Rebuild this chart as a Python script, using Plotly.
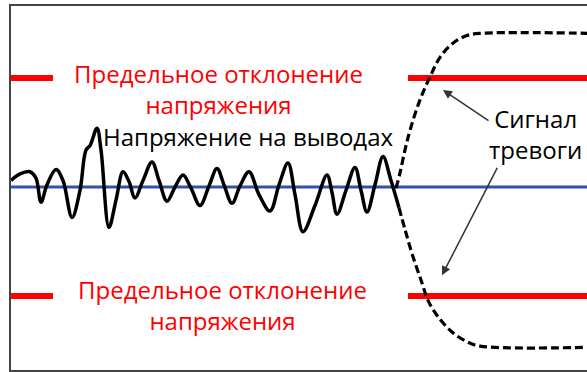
"""
Напряжение на выводах и сигнал тревоги
"""
import plotly.graph_objects as go

# Время (усл. ед.) и напряжение (в долях от предельного отклонения)
wave_t = [0, 9, 19, 25, 30, 36, 45, 52, 61, 69, 75, 79, 86, 90, 98, 105, 112, 118,
          124, 132, 141, 148, 156, 164, 172, 180, 189, 198, 206, 213, 221, 229, 238,
          248, 259, 268, 277, 284, 292, 304, 316, 321, 326, 335, 344, 350, 356, 364,
          372, 380, 388]
wave_v = [0.06, 0.12, 0.14, 0.08, -0.14, 0.02, 0.16, 0.06, -0.28, -0.03, 0.34, 0.38,
          0.54, 0.34, -0.37, -0.12, 0.14, 0.05, -0.10, 0.06, 0.23, 0.06, -0.13, 0.00,
          0.11, -0.01, -0.17, 0.01, 0.17, 0.02, -0.15, 0.01, 0.14, -0.07, -0.22, 0.02,
          0.22, -0.07, -0.41, -0.17, 0.11, -0.05, -0.25, -0.03, 0.18, -0.03, -0.23,
          0.02, 0.28, 0.06, -0.19]

alarm_up_t = [385, 389, 394, 399, 409, 419, 429, 442, 456, 469, 580]
alarm_up_v = [-0.01, 0.13, 0.34, 0.52, 0.80, 1.01, 1.19, 1.32, 1.39, 1.41, 1.41]

alarm_down_t = [388, 394, 402, 411, 417, 427, 441, 456, 469, 580]
alarm_down_v = [-0.19, -0.39, -0.64, -0.88, -1.04, -1.19, -1.33, -1.42, -1.46, -1.47]

limit_v = 1.0
limit_left_t = [0, 42]
limit_right_t = [397, 580]
t_range = [0, 589]
v_range = [-1.679, 1.661]

FONT = "Open Sans"
DASH = '8px,4px'

fig = go.Figure()

# Нулевая линия
fig.add_trace(go.Scatter(x=t_range, y=[0, 0], mode='lines',
                         line=dict(color='#3550a8', width=3)))

# Пределы отклонения
for seg in (limit_left_t, limit_right_t):
    for v in (limit_v, -limit_v):
        fig.add_trace(go.Scatter(x=seg, y=[v, v], mode='lines',
                                 line=dict(color='#ff0000', width=6)))

# Сигнал тревоги (пунктир)
fig.add_trace(go.Scatter(x=alarm_up_t, y=alarm_up_v, mode='lines',
                         line=dict(color='black', width=3.2, dash=DASH,
                                   shape='spline', smoothing=1)))
fig.add_trace(go.Scatter(x=alarm_down_t, y=alarm_down_v, mode='lines',
                         line=dict(color='black', width=3.2, dash=DASH,
                                   shape='spline', smoothing=1)))

# Напряжение на выводах
fig.add_trace(go.Scatter(x=wave_t, y=wave_v, mode='lines',
                         line=dict(color='black', width=3.5, shape='spline',
                                   smoothing=1)))

# Подписи
fig.add_annotation(x=207, y=0.90, text="Предельное отклонение<br>напряжения",
                   showarrow=False, font=dict(family=FONT, size=24, color='#ff0000'))
fig.add_annotation(x=211, y=-1.08, text="Предельное отклонение<br>напряжения",
                   showarrow=False, font=dict(family=FONT, size=24, color='#ff0000'))
fig.add_annotation(x=237, y=0.46, text="Напряжение на выводах",
                   showarrow=False, font=dict(family=FONT, size=24, color='black'))
fig.add_annotation(x=524, y=0.49, text="Сигнал<br>тревоги",
                   showarrow=False, font=dict(family=FONT, size=24, color='black'))

# Стрелки к сигналу тревоги
fig.add_annotation(x=432, y=0.89, ax=479, ay=0.60, axref='x', ayref='y',
                   text="", showarrow=True, arrowhead=2, arrowsize=1.2,
                   arrowwidth=1.5, arrowcolor='#333333')
fig.add_annotation(x=431, y=-0.81, ax=487, ay=0.19, axref='x', ayref='y',
                   text="", showarrow=True, arrowhead=2, arrowsize=1.2,
                   arrowwidth=1.5, arrowcolor='#333333')

# рамка открыта справа: область графика шире окна
fig.update_layout(
    width=600,
    height=372,
    margin=dict(l=11, r=0, t=6, b=2),
    showlegend=False,
    hovermode=False,
    plot_bgcolor='white',
    paper_bgcolor='white',
    xaxis=dict(range=t_range, showgrid=False, zeroline=False, showticklabels=False,
               showline=True, mirror=True, linecolor='#444444', linewidth=2),
    yaxis=dict(range=v_range, showgrid=False, zeroline=False, showticklabels=False,
               showline=True, linecolor='#444444', linewidth=2),
)

fig.write_html("out.html", config={'displayModeBar': False},
               post_script="document.body.style.margin='0';"
                           "document.body.style.overflow='hidden';")
